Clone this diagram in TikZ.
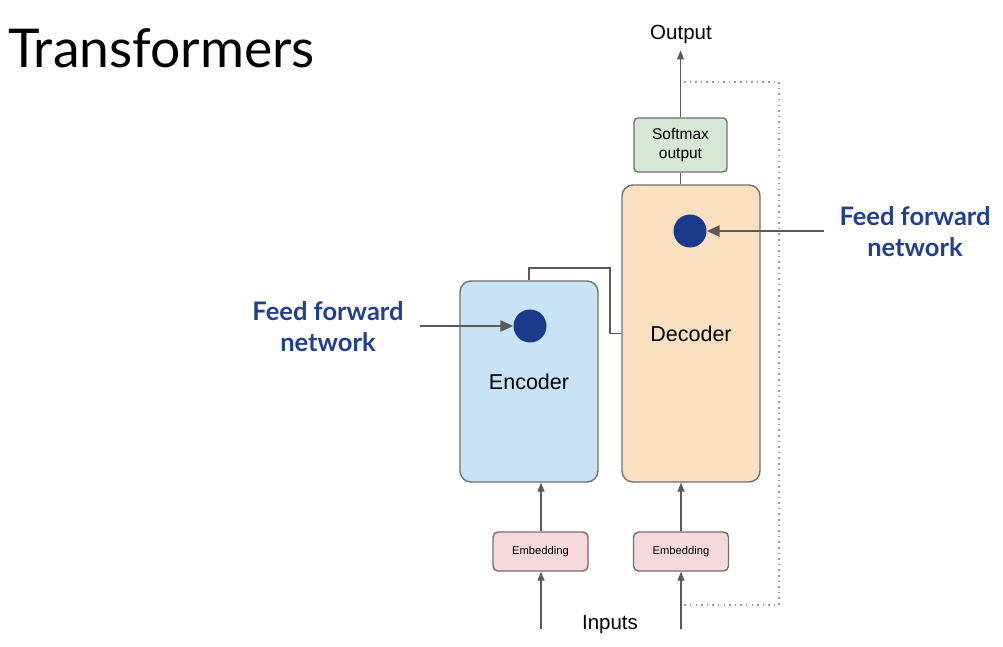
\documentclass[tikz,border=0pt]{standalone}
\usepackage{fontspec}
\setmainfont{Liberation Sans}
\newfontfamily\lato{Lato}
\usetikzlibrary{arrows.meta, positioning}
\definecolor{encfill}{HTML}{C7E3F5}
\definecolor{decfill}{HTML}{FAE0BE}
\definecolor{softfill}{HTML}{D5E8D6}
\definecolor{embfill}{HTML}{F6D9DB}
\definecolor{dotblue}{HTML}{1A3A8C}
\definecolor{textblue}{HTML}{213F8C}
\definecolor{edgegray}{HTML}{707070}
\definecolor{linegray}{HTML}{5A5A5A}
\tikzstyle{block} = [draw=edgegray, line width=1.4pt, rectangle, rounded corners=11pt, inner sep=0pt, font=\fontsize{21.5}{24}\selectfont]
\tikzstyle{encoder} = [block, fill=encfill, minimum width=138pt, minimum height=201pt]
\tikzstyle{decoder} = [block, fill=decfill, minimum width=138pt, minimum height=297pt]
\tikzstyle{softmax} = [block, fill=softfill, rounded corners=4pt, minimum width=93pt, minimum height=54pt, align=center, font=\fontsize{15.5}{19}\selectfont]
\tikzstyle{embedding} = [block, fill=embfill, rounded corners=5pt, minimum width=95pt, minimum height=39pt, font=\fontsize{11.2}{13}\selectfont]
\tikzstyle{dot} = [circle, fill=dotblue, minimum size=33pt, inner sep=0pt]
\tikzstyle{callout} = [font=\lato\bfseries\fontsize{25.5}{31}\selectfont, text=textblue, align=center]
\tikzstyle{caption} = [font=\fontsize{20.5}{24}\selectfont, inner sep=0pt]
\tikzstyle{wire} = [draw=linegray, line width=1.3pt]
\tikzstyle{flow} = [-{Triangle[length=9pt, width=7pt]}, draw=linegray, line width=1.3pt]
\tikzstyle{pointer} = [-{Triangle[length=13pt, width=11pt]}, draw=linegray, line width=2.6pt]
\tikzstyle{feedback} = [draw=gray!80, line width=1.5pt, dash pattern=on 1.5pt off 4.1pt]

\begin{document}
\begin{tikzpicture}[x=1pt, y=-1pt]
    \useasboundingbox (0,0) rectangle (1003,647);

    % Title.
    \node (title) [anchor=base west, inner sep=0pt, font=\lato\fontsize{53.5}{60}\selectfont] at (8,68) {Transformers};

    % Blocks.
    \node (encoder) [encoder] at (529,381.5) {Encoder};
    \node (decoder) [decoder] at (691,333.5) {Decoder};
    \node (softmax) [softmax] at (680.5,145) {Softmax\\output};
    \node (emb1) [embedding] at (540.5,551.5) {Embedding};
    \node (emb2) [embedding] at (681,551.5) {Embedding};

    \node (dot1) [dot] at (530,326) {};
    \node (dot2) [dot] at (690,231) {};

    % Texts.
    \node (output) [caption, anchor=base] at (681,40) {Output};
    \node (inputs) [caption, anchor=base] at (610,629) {Inputs};
    \node (ffn1) [callout] at (328,327) {Feed forward\\network};
    \node (ffn2) [callout] at (915,232) {Feed forward\\network};

    \coordinate (in1) at (541,629);
    \coordinate (in2) at (681,629);
    \coordinate (loopstart) at (684,82);
    \coordinate (loopend) at (683,605);

    % Arrows.
    \draw [flow] (in1) -- (in1 |- emb1.south);
    \draw [flow] (in1 |- emb1.north) -- (in1 |- encoder.south);
    \draw [flow] (in2) -- (emb2.south);
    \draw [flow] (emb2.north) -- (emb2.north |- decoder.south);
    \draw [wire] (softmax.south) -- (softmax.south |- decoder.north);
    \draw [flow, shorten >=6pt] (softmax.north) -- (softmax.north |- output.south);
    \draw [wire] (encoder.north) |- (610,268) |- (decoder.west);
    \draw [feedback] (loopstart) -| (779,605) -- (loopend);

    \draw [pointer, shorten <=13pt] (ffn1.east |- dot1) -- (dot1.west);
    \draw [pointer, shorten <=12pt] (ffn2.west |- dot2) -- (dot2.east);
\end{tikzpicture}
\end{document}
